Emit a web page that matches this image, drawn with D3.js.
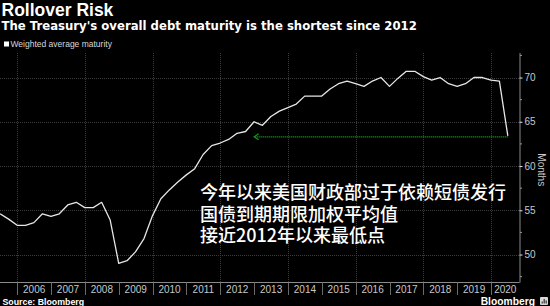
<!DOCTYPE html>
<html>
<head>
<meta charset="utf-8">
<script src="https://cdn.jsdelivr.net/npm/d3@7"></script>
<style>
  body { margin: 0; background: #000; }
  svg { display: block; font-family: "Liberation Sans", Arial, sans-serif; }
</style>
</head>
<body>
<svg id="chart"></svg>
<script>
// Chart data: weighted average maturity of Treasury debt (months), quarterly
const quarters = [
  "2005Q2","2005Q3","2005Q4","2006Q1","2006Q2","2006Q3","2006Q4","2007Q1","2007Q2","2007Q3",
  "2007Q4","2008Q1","2008Q2","2008Q3","2008Q4","2009Q1","2009Q2","2009Q3","2009Q4","2010Q1",
  "2010Q2","2010Q3","2010Q4","2011Q1","2011Q2","2011Q3","2011Q4","2012Q1","2012Q2","2012Q3",
  "2012Q4","2013Q1","2013Q2","2013Q3","2013Q4","2014Q1","2014Q2","2014Q3","2014Q4","2015Q1",
  "2015Q2","2015Q3","2015Q4","2016Q1","2016Q2","2016Q3","2016Q4","2017Q1","2017Q2","2017Q3",
  "2017Q4","2018Q1","2018Q2","2018Q3","2018Q4","2019Q1","2019Q2","2019Q3","2019Q4","2020Q1",
  "2020Q2"
];
const maturity = [
  54.6, 54.0, 53.3, 53.3, 53.6, 54.6, 54.3, 54.6, 55.6, 55.9,
  55.3, 55.3, 55.9, 53.9, 49.0, 49.3, 50.3, 51.8, 54.4, 56.3,
  57.3, 58.2, 59.0, 59.7, 61.3, 62.3, 62.6, 63.0, 63.7, 63.9,
  65.0, 64.6, 65.6, 66.2, 66.6, 67.0, 67.9, 67.9, 67.9, 68.7,
  69.3, 69.6, 69.3, 69.0, 69.6, 70.0, 69.0, 69.9, 70.7, 70.7,
  70.1, 69.7, 70.0, 69.3, 69.0, 69.3, 70.0, 70.0, 69.7, 69.6,
  63.4
];
const yearLabels = [2006, 2007, 2008, 2009, 2010, 2011, 2012, 2013, 2014, 2015, 2016, 2017, 2018, 2019, 2020];
const gridYears = [2006, 2008, 2010, 2012, 2014, 2016, 2018, 2020];
const yTicks = [50, 55, 60, 65, 70];
const yMinorTicks = [47.5, 52.5, 57.5, 62.5, 67.5, 72.5];
// arrow: from the 2020 low back to the same level at end of 2012
const arrowFrom = "2020Q2", arrowTo = "2012Q4", arrowLevel = 63.3;
const noteLines = ["今年以来美国财政部过于依赖短债发行", "国债到期期限加权平均值", "接近2012年以来最低点"];

const svgWidth = 550, svgHeight = 306;
const plot = { left: 0, right: 519.5, top: 53, bottom: 282.5 };

const svg = d3.select("#chart").attr("width", svgWidth).attr("height", svgHeight);
svg.append("rect").attr("width", svgWidth).attr("height", svgHeight).attr("fill", "#000");

// quarter label -> quarter-end date
const parseQ = q => {
  const y = +q.slice(0, 4), n = +q.slice(5);
  return new Date(y, n * 3, 0);
};
const data = quarters.map((q, i) => ({ date: parseQ(q), value: maturity[i] }));

const x = d3.scaleTime()
  .domain([new Date(2005, 5, 29), new Date(2020, 10, 3)])
  .range([plot.left, plot.right]);
const y = d3.scaleLinear()
  .domain([46.84, 72.77])
  .range([plot.bottom, plot.top]);

// gridlines
const grid = svg.append("g").attr("stroke", "#3c3c3c").attr("stroke-dasharray", "1,1");
grid.selectAll(".hg").data(yTicks).enter().append("line")
  .attr("x1", plot.left).attr("x2", plot.right)
  .attr("y1", d => Math.round(y(d)) + 0.5).attr("y2", d => Math.round(y(d)) + 0.5);
grid.selectAll(".vg").data(gridYears).enter().append("line")
  .attr("x1", d => Math.round(x(new Date(d, 0, 1))) + 0.5)
  .attr("x2", d => Math.round(x(new Date(d, 0, 1))) + 0.5)
  .attr("y1", plot.top).attr("y2", plot.bottom);

// x axis: baseline, year separators and centred year labels
const xAxis = svg.append("g");
xAxis.append("line")
  .attr("x1", plot.left).attr("x2", plot.right)
  .attr("y1", plot.bottom).attr("y2", plot.bottom)
  .attr("stroke", "#8a8a8a");
xAxis.selectAll(".sep").data(yearLabels).enter().append("line")
  .attr("x1", d => Math.round(x(new Date(d, 0, 1))) + 0.5)
  .attr("x2", d => Math.round(x(new Date(d, 0, 1))) + 0.5)
  .attr("y1", plot.bottom).attr("y2", plot.bottom + 12.5)
  .attr("stroke", "#6a6a6a");
xAxis.selectAll(".yl").data(yearLabels).enter().append("text")
  .attr("x", d => (x(new Date(d, 0, 1)) + Math.min(x(new Date(d + 1, 0, 1)), plot.right)) / 2)
  .attr("y", 292.7)
  .attr("text-anchor", "middle")
  .attr("fill", "#c8c8c8")
  .attr("font-size", 10)
  .text(d => d);

// y axis on the right
const yAxis = svg.append("g")
  .attr("transform", `translate(${plot.right},0)`)
  .call(d3.axisRight(y).tickValues(yTicks).tickSize(3).tickPadding(2));
yAxis.select(".domain").attr("stroke", "#8a8a8a").attr("d", `M0.5,${plot.top}V${plot.bottom}`);
yAxis.selectAll(".tick line").attr("stroke", "#e0e0e0");
yAxis.selectAll(".tick text").attr("fill", "#c8c8c8").attr("font-size", 10)
  .attr("font-family", "Liberation Sans, Arial, sans-serif");
yAxis.selectAll(".minor").data(yMinorTicks).enter().append("line")
  .attr("x1", 0.5).attr("x2", 2.5)
  .attr("y1", d => y(d)).attr("y2", d => y(d))
  .attr("stroke", "#9a9a9a");

svg.append("text")
  .attr("transform", `translate(538,${(plot.top + plot.bottom) / 2 + 2}) rotate(90)`)
  .attr("text-anchor", "middle")
  .attr("fill", "#c8c8c8")
  .attr("font-size", 10)
  .text("Months");

// the series
svg.append("defs").append("clipPath").attr("id", "clip")
  .append("rect").attr("x", plot.left).attr("y", plot.top)
  .attr("width", plot.right - plot.left).attr("height", plot.bottom - plot.top);

svg.append("path")
  .datum(data)
  .attr("clip-path", "url(#clip)")
  .attr("fill", "none")
  .attr("stroke", "#e6e6e6")
  .attr("stroke-width", 1.3)
  .attr("stroke-linejoin", "round")
  .attr("d", d3.line().x(d => x(d.date)).y(d => y(d.value)));

// green dotted arrow
const ax1 = x(parseQ(arrowFrom)), ax2 = x(parseQ(arrowTo)), ay = y(arrowLevel);
svg.append("line")
  .attr("x1", ax1).attr("x2", ax2 + 1)
  .attr("y1", ay).attr("y2", ay)
  .attr("stroke", "#12a012")
  .attr("stroke-width", 1.3)
  .attr("stroke-dasharray", "1.2,0.8");
svg.append("path")
  .attr("d", `M${ax2 + 4.5},${ay - 3}L${ax2},${ay}L${ax2 + 4.5},${ay + 3}`)
  .attr("fill", "none")
  .attr("stroke", "#12a012")
  .attr("stroke-width", 1.1);

// Chinese annotation
svg.append("g")
  .attr("font-family", "Noto Sans CJK SC, sans-serif")
  .attr("font-size", 18)
  .attr("font-weight", 500)
  .attr("fill", "#ffffff")
  .selectAll("text").data(noteLines).enter().append("text")
  .attr("x", 200)
  .attr("y", (d, i) => 199 + i * 21.5)
  .text(d => d);

// titles and legend
svg.append("text").attr("x", 1.5).attr("y", 16)
  .attr("fill", "#fff").attr("font-size", 17.5).attr("font-weight", "bold")
  .text("Rollover Risk");
svg.append("text").attr("x", 1.5).attr("y", 30.3)
  .attr("fill", "#fff").attr("font-size", 11.7).attr("font-weight", "bold")
  .attr("font-family", "DejaVu Sans, Verdana, sans-serif")
  .text("The Treasury's overall debt maturity is the shortest since 2012");

svg.append("rect").attr("x", 4).attr("y", 41.5).attr("width", 5).attr("height", 5).attr("fill", "#fff");
svg.append("text").attr("x", 10.5).attr("y", 47)
  .attr("fill", "#d8d8d8").attr("font-size", 8.5)
  .text("Weighted average maturity");

// footer
svg.append("text").attr("x", 2.5).attr("y", 305)
  .attr("fill", "#fff").attr("font-size", 8.8).attr("font-weight", "bold")
  .text("Source: Bloomberg");
svg.append("text").attr("x", 535).attr("y", 305)
  .attr("text-anchor", "end")
  .attr("fill", "#fff").attr("font-size", 10.3).attr("font-weight", "bold")
  .text("Bloomberg");
const logo = svg.append("g").attr("transform", "translate(540,297)");
logo.append("rect").attr("width", 8).attr("height", 8).attr("rx", 1).attr("fill", "#d8d8d8");
logo.append("path").attr("d", "M1.5,6.5V4.5H3V6.5M3.5,6.5V2H5V6.5M5.5,6.5V3.5H7V6.5").attr("fill", "#555");
</script>
</body>
</html>
